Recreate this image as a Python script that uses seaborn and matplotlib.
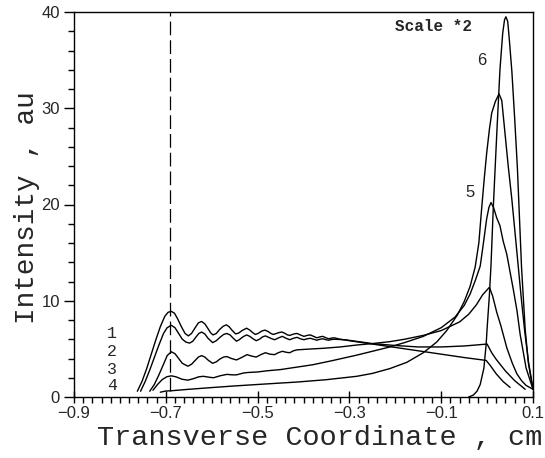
import matplotlib
matplotlib.use("Agg")
import matplotlib.pyplot as plt
import matplotlib.ticker as ticker
import numpy as np
import pandas as pd
import seaborn as sns

## dane (x w cm, intensywnosc w au)
x1 = [-0.762, -0.752, -0.742, -0.732, -0.722, -0.712, -0.702, -0.695, -0.688, -0.681, -0.674, -0.666,
      -0.658, -0.651, -0.644, -0.636, -0.629, -0.622, -0.615, -0.608, -0.602, -0.597, -0.590, -0.583,
      -0.575, -0.568, -0.562, -0.556, -0.548, -0.541, -0.534, -0.524, -0.517, -0.511, -0.505, -0.499,
      -0.491, -0.484, -0.477, -0.471, -0.466, -0.459, -0.453, -0.447, -0.440, -0.435, -0.430, -0.424,
      -0.418, -0.414, -0.407, -0.399, -0.392, -0.385, -0.378, -0.371, -0.364, -0.358, -0.351, -0.345,
      -0.339, -0.333, -0.32, -0.30, -0.25, -0.20, -0.15, -0.10, -0.05, -0.002, 0.008, 0.02, 0.035, 0.05]
y1 = [0.6, 1.6, 2.9, 4.4, 5.9, 7.3, 8.4, 8.8, 8.9, 8.7, 8.1, 7.3,
      6.6, 6.35, 6.6, 7.2, 7.7, 7.85, 7.6, 7.1, 6.65, 6.45, 6.6, 7.0,
      7.35, 7.5, 7.3, 6.95, 6.55, 6.65, 6.9, 7.15, 6.95, 6.7, 6.5, 6.6,
      6.85, 6.95, 6.8, 6.6, 6.5, 6.6, 6.7, 6.75, 6.6, 6.45, 6.4, 6.5,
      6.58, 6.6, 6.45, 6.3, 6.4, 6.45, 6.3, 6.15, 6.25, 6.3, 6.15, 6.05,
      6.12, 6.15, 6.0, 5.85, 5.5, 5.15, 4.8, 4.45, 4.1, 3.8, 3.2, 2.4, 1.6, 1.0]

x2 = [-0.755, -0.745, -0.735, -0.725, -0.715, -0.705, -0.697, -0.688, -0.680, -0.672, -0.664, -0.656,
      -0.648, -0.641, -0.634, -0.628, -0.622, -0.615, -0.608, -0.598, -0.590, -0.582, -0.574, -0.567,
      -0.560, -0.553, -0.546, -0.540, -0.532, -0.524, -0.517, -0.510, -0.503, -0.496, -0.489, -0.483,
      -0.476, -0.469, -0.463, -0.454, -0.446, -0.438, -0.430, -0.422, -0.414, -0.407, -0.399, -0.392,
      -0.385, -0.378, -0.371, -0.364, -0.358, -0.351, -0.345, -0.339, -0.333, -0.31, -0.28, -0.25,
      -0.20, -0.15, -0.10, -0.05, 0.0, 0.01, 0.02, 0.04, 0.06, 0.083]
y2 = [0.6, 1.6, 2.8, 4.1, 5.4, 6.6, 7.2, 7.45, 7.2, 6.6, 6.0, 5.7,
      5.6, 5.8, 6.25, 6.6, 6.75, 6.55, 6.1, 5.65, 5.85, 6.2, 6.5, 6.6,
      6.45, 6.1, 5.8, 5.95, 6.25, 6.45, 6.3, 6.05, 5.85, 6.0, 6.25, 6.35,
      6.2, 6.05, 5.95, 6.15, 6.3, 6.1, 5.95, 6.1, 6.2, 6.05, 5.95, 6.05,
      6.1, 6.0, 5.9, 6.0, 6.05, 5.95, 5.9, 5.97, 6.0, 5.95, 5.75, 5.55,
      5.35, 5.2, 5.2, 5.3, 5.5, 4.6, 3.9, 2.7, 1.7, 0.8]

x3 = [-0.735, -0.725, -0.715, -0.705, -0.697, -0.688, -0.680, -0.672, -0.664, -0.652, -0.644, -0.636,
      -0.629, -0.622, -0.615, -0.607, -0.598, -0.590, -0.582, -0.574, -0.567, -0.557, -0.546, -0.535,
      -0.523, -0.513, -0.503, -0.493, -0.483, -0.473, -0.463, -0.455, -0.446, -0.438, -0.430, -0.422,
      -0.414, -0.38, -0.357, -0.32, -0.284, -0.25, -0.212, -0.18, -0.139, -0.10, -0.06, -0.04,
      -0.023, -0.01, 0.005, 0.012, 0.021, 0.03, 0.043, 0.055, 0.065, 0.075, 0.085, 0.1]
y3 = [0.6, 1.3, 2.3, 3.4, 4.3, 4.7, 4.5, 4.0, 3.5, 3.2, 3.4, 3.8,
      4.15, 4.3, 4.15, 3.8, 3.5, 3.65, 3.95, 4.15, 4.2, 4.0, 3.85, 4.1,
      4.4, 4.25, 4.15, 4.4, 4.6, 4.45, 4.4, 4.6, 4.75, 4.65, 4.6, 4.8,
      4.9, 5.0, 5.06, 5.2, 5.4, 5.55, 5.75, 6.0, 6.4, 6.9, 7.8, 8.6,
      9.6, 10.6, 11.4, 10.5, 8.8, 7.4, 5.1, 3.5, 2.4, 1.7, 1.2, 0.8]

x4 = [-0.728, -0.718, -0.708, -0.698, -0.688, -0.678, -0.665, -0.652, -0.640, -0.628, -0.618, -0.605,
      -0.596, -0.582, -0.567, -0.555, -0.546, -0.530, -0.520, -0.50, -0.48, -0.45, -0.415, -0.38,
      -0.34, -0.284, -0.25, -0.212, -0.18, -0.139, -0.10, -0.07, -0.05, -0.037, -0.025, -0.015,
      -0.008, -0.001, 0.004, 0.0085, 0.014, 0.021, 0.028, 0.035, 0.043, 0.05, 0.057, 0.065,
      0.072, 0.085, 0.1]
y4 = [0.7, 1.3, 1.8, 2.1, 2.2, 2.1, 1.85, 1.75, 1.9, 2.1, 2.15, 2.05,
      2.0, 2.2, 2.35, 2.3, 2.3, 2.5, 2.55, 2.6, 2.72, 2.85, 3.1, 3.35,
      3.75, 4.35, 4.75, 5.2, 5.65, 6.3, 7.2, 8.3, 9.5, 10.7, 12.2, 13.6,
      16.0, 18.5, 19.7, 20.2, 19.7, 18.6, 17.8, 16.2, 14.8, 13.0, 11.2, 9.0,
      6.5, 3.0, 0.8]

x5 = [-0.712, -0.70, -0.688, -0.65, -0.60, -0.55, -0.50, -0.45, -0.415, -0.35, -0.284, -0.25,
      -0.212, -0.175, -0.139, -0.11, -0.088, -0.065, -0.05, -0.037, -0.026, -0.018, -0.012, -0.006,
      -0.001, 0.005, 0.01, 0.018, 0.026, 0.032, 0.039, 0.046, 0.054, 0.061, 0.068, 0.075,
      0.082, 0.09, 0.1]
y5 = [0.5, 0.62, 0.65, 0.8, 0.98, 1.15, 1.3, 1.45, 1.55, 1.8, 2.15, 2.45,
      2.95, 3.6, 4.6, 5.7, 6.9, 8.5, 9.9, 11.5, 13.5, 16.0, 19.5, 22.8,
      25.3, 27.8, 29.5, 30.7, 31.5, 30.8, 27.4, 24.0, 20.5, 17.0, 13.5, 10.0,
      6.8, 3.7, 0.8]

x6 = [-0.04, -0.03, -0.022, -0.015, -0.007, -0.002, 0.0, 0.005, 0.0085, 0.0135, 0.021, 0.028,
      0.034, 0.038, 0.041, 0.045, 0.049, 0.054, 0.06, 0.066, 0.075, 0.083, 0.09, 0.1]
y6 = [0.0, 0.2, 0.6, 1.3, 3.0, 5.5, 7.1, 10.6, 13.7, 19.7, 27.3, 34.0,
      37.8, 39.2, 39.5, 39.0, 36.8, 33.8, 29.0, 23.8, 13.5, 7.0, 3.5, 0.8]

# linia przerywana
dash_x = -0.69
dash_y = [0.6, 40]

curves = {'1': (x1, y1), '2': (x2, y2), '3': (x3, y3), '4': (x4, y4), '5': (x5, y5), '6': (x6, y6)}
df = pd.concat([pd.DataFrame({'x': xs, 'y': ys, 'curve': name}) for name, (xs, ys) in curves.items()],
               ignore_index=True)

sns.set_style('ticks')
plt.rcParams['font.family'] = ['Liberation Sans', 'DejaVu Sans']
mono = 'Liberation Mono'

fig = plt.figure(figsize=(5.45, 4.58), dpi=100)
ax = fig.add_axes([74/545, 61/458, 459/545, 385/458])

sns.lineplot(data=df, x='x', y='y', units='curve', estimator=None, sort=False,
             color='black', linewidth=1.0, ax=ax)
ax.plot([dash_x, dash_x], dash_y, color='black', linewidth=0.9, dashes=(11, 4))

ax.set_xlim(-0.9, 0.1)
ax.set_ylim(0, 40)

# osie, podzialki
ax.xaxis.set_major_locator(ticker.FixedLocator([-0.9, -0.7, -0.5, -0.3, -0.1, 0.1]))
ax.xaxis.set_minor_locator(ticker.MultipleLocator(0.02))
ax.yaxis.set_major_locator(ticker.MultipleLocator(10))
ax.yaxis.set_minor_locator(ticker.MultipleLocator(2))
ax.tick_params(which='both', bottom=True, left=True, top=False, right=False, color='black')
ax.tick_params(axis='x', which='major', direction='inout', length=9, width=1, pad=2, labelsize=12)
ax.tick_params(axis='x', which='minor', direction='out', length=4.5, width=1)
ax.tick_params(axis='y', which='major', direction='out', length=7, width=1, pad=3, labelsize=12)
ax.tick_params(axis='y', which='minor', direction='out', length=4, width=1)
ax.xaxis.set_major_formatter(ticker.FuncFormatter(lambda v, p: ('%.1f' % v).replace('-', '\u2212')))

for s in ax.spines.values():
    s.set_visible(True)
    s.set_linewidth(1.0)
    s.set_color('black')

ax.set_xlabel('Transverse Coordinate , cm', family=mono, fontsize=20.5, va='center')
ax.xaxis.set_label_coords(0.536, -0.107)
ax.set_ylabel('Intensity , au', family=mono, fontsize=20, va='center')
ax.yaxis.set_label_coords(-0.102, 0.491)

# opisy krzywych
ax.text(-0.2, 38.5, 'Scale *2', family=mono, fontweight='bold', fontsize=11.5, va='center', ha='left')
ax.text(-0.012, 35.0, '6', fontsize=12, ha='center', va='center')
ax.text(-0.037, 21.2, '5', fontsize=12, ha='center', va='center')
for lab, yy in zip(['1', '2', '3', '4'], [6.6, 4.7, 2.9, 1.15]):
    ax.text(-0.818, yy, lab, family=mono, fontsize=12, ha='center', va='center')

fig.savefig('out.png', dpi=100)
